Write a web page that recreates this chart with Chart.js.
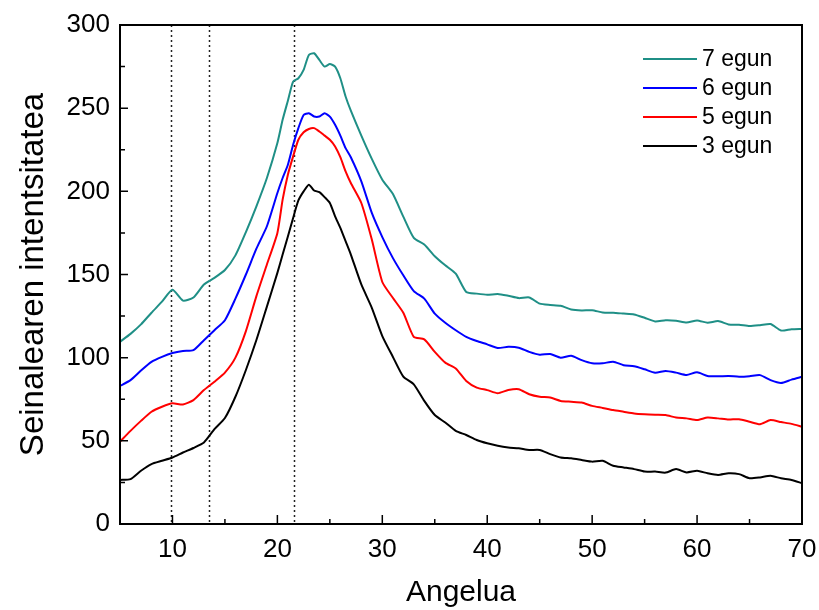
<!DOCTYPE html>
<html>
<head>
<meta charset="utf-8">
<script src="https://cdn.jsdelivr.net/npm/chart.js@4.4.1/dist/chart.umd.min.js"></script>
<style>
  html, body { margin: 0; padding: 0; background: #fff; }
  #wrap { width: 819px; height: 610px; }
</style>
</head>
<body>
<div id="wrap"><canvas id="c"></canvas></div>
<script>
const angles = [5,6,7,8,9,10,11,12,13,14,15,16,17,18,19,
  20,20.5,21,21.5,22,22.5,23,23.5,24,24.5,25,25.5,26,26.5,27,
  28,29,30,31,32,33,34,35,36,37,38,39,40,41,42,43,44,45,46,47,48,49,50,
  51,52,53,54,55,56,57,58,59,60,61,62,63,64,65,66,67,68,69,70]

const egun7 = [109.5,114.3,120,127,133.7,140.8,134.3,136.2,144,148,152.7,161.5,175.5,191,208,
  229,243,254.5,266,268,273,282,283,279,275,276.5,275,268,257,248.5,
  233.5,219.5,207,198.5,184.8,172,168,161,155.5,150.5,139.5,138.5,137.8,138.3,137.2,135.8,136.2,132.5,131.7,131.2,129,128.4,128.5,
  127.2,127,126.5,126,124,121.8,122.5,122.2,121.1,122.4,121,122,120,119.8,119,119.5,120.2,116.3,117.1,117.3]

const egun6 = [83,86.5,92.3,97.5,100.5,102.8,104,104.5,110.5,116.5,122.5,135.5,150,165.5,179,
  199,208,216,228,238,245.9,247,245,245,247,244.9,240,233.5,226,220.5,
  206,187,172.5,160,149.5,140,135.5,126.5,121,116.5,112.5,110,108,105.8,106.5,106,103.5,101.8,102.2,100,101.2,98.5,96.6,
  96.6,97.6,95.5,94.8,93,91,92,91,89.6,91.2,89,88.8,89,88.5,88.8,89.5,86.5,84.8,86.8,88.5]

const egun5 = [49.5,56,62,67.5,70.5,72.6,71.8,74.5,80.5,85.5,91,100,116,137,156,
  175,195,210,221,231,235.5,237.5,238,236,233.5,231,227,220.5,212,205,
  193,171,145.5,136,127,112.5,111,103.5,97,93.5,86,82,80.5,78.6,80.5,81,78,76.5,76,74,73.5,73,71,
  69.8,68.5,67.5,66.5,66,65.7,65.5,64,63.5,62.5,64,63.5,62.8,63,61.5,60,62.5,61.3,60.2,58.5]

const egun3 = [26.5,27,32,36,38,40,43,45.7,49,57,63.7,76.5,92.6,110.6,130.7,
  151,162,172.8,184,194.5,200,204,200.5,199.5,196.5,193,185,178,170,162,
  144,130,113,100.6,88.6,84,74,65.5,61,56,53.5,50.5,48.5,47,46,45.5,44.5,44.5,42,40,39.5,38.5,37.5,
  38,35,34,33,31.5,31.5,30.9,33,31,32,30.5,29.5,30.5,30,27.5,28,29,27.5,26.5,24.5]

const seriesNames = ["7 egun", "6 egun", "5 egun", "3 egun"]
const seriesColors = ["#1f8f86", "#0000ff", "#ff0000", "#000000"]
const xTicks = [10, 20, 30, 40, 50, 60, 70]
const yTicks = [0, 50, 100, 150, 200, 250, 300]
const markerAngles = [9.9, 13.5, 21.6]

const fontName = "'Liberation Sans', Arial, sans-serif"

const toPoints = function(ys){
  return ys.map((v, i) => ({ x: angles[i], y: v }))
}

// Frame, inward ticks, dotted lines and legend
const decorations = {
  id: "decorations",
  beforeDatasetsDraw(chart) {
    const { ctx, chartArea } = chart
    const xs = chart.scales.x
    ctx.save()
    ctx.strokeStyle = "#222"
    ctx.lineWidth = 1.5
    ctx.setLineDash([2, 3])
    markerAngles.forEach(a => {
      const px = Math.round(xs.getPixelForValue(a)) + 0.5
      ctx.beginPath()
      ctx.moveTo(px, chartArea.top)
      ctx.lineTo(px, chartArea.bottom)
      ctx.stroke()
    })
    ctx.restore()
  },
  afterDatasetsDraw(chart) {
    const { ctx, chartArea } = chart
    const xs = chart.scales.x
    const ys = chart.scales.y
    ctx.save()
    ctx.strokeStyle = "#000"
    ctx.lineWidth = 2
    ctx.strokeRect(chartArea.left, chartArea.top, chartArea.right - chartArea.left, chartArea.bottom - chartArea.top)
    ctx.lineWidth = 1.5
    ctx.beginPath()
    for (let v = 5; v <= 70; v += 5) {
      const px = xs.getPixelForValue(v)
      const len = v % 10 === 0 ? 9 : 5
      ctx.moveTo(px, chartArea.bottom)
      ctx.lineTo(px, chartArea.bottom - len)
    }
    for (let v = 0; v <= 300; v += 25) {
      const py = ys.getPixelForValue(v)
      const len = v % 50 === 0 ? 8 : 5
      ctx.moveTo(chartArea.left, py)
      ctx.lineTo(chartArea.left + len, py)
    }
    ctx.stroke()

    // legend
    ctx.font = "23px " + fontName
    ctx.textBaseline = "middle"
    ctx.fillStyle = "#000"
    chart.data.datasets.forEach((ds, i) => {
      const y = 59 + i * 29
      ctx.strokeStyle = ds.borderColor
      ctx.lineWidth = 2
      ctx.beginPath()
      ctx.moveTo(643, y)
      ctx.lineTo(697, y)
      ctx.stroke()
      ctx.fillText(ds.label, 702, y + 1)
    })
    ctx.restore()
  }
}

const datasets = [egun7, egun6, egun5, egun3].map((ys, i) => ({
  label: seriesNames[i],
  data: toPoints(ys),
  borderColor: seriesColors[i],
  borderWidth: 2,
  pointRadius: 0,
  tension: 0.2,
  fill: false
}))

new Chart(document.getElementById("c"), {
  type: "line",
  data: { datasets: datasets },
  plugins: [decorations],
  options: {
    responsive: true,
    maintainAspectRatio: false,
    animation: false,
    layout: { padding: { left: 0, top: 25, right: 17, bottom: 0 } },
    plugins: { legend: { display: false }, tooltip: { enabled: false } },
    scales: {
      x: {
        type: "linear",
        min: 5,
        max: 70,
        afterBuildTicks: s => { s.ticks = xTicks.map(v => ({ value: v })) },
        afterFit: s => { s.height = 86; s.paddingLeft = 0; s.paddingRight = 0 },
        grid: { display: false, drawTicks: false },
        border: { display: false },
        ticks: { padding: 10, color: "#000", font: { size: 26, family: fontName } },
        title: { display: true, text: "Angelua", color: "#000", font: { size: 30, family: fontName }, padding: { top: 4, bottom: -1 } }
      },
      y: {
        min: 0,
        max: 300,
        afterBuildTicks: s => { s.ticks = yTicks.map(v => ({ value: v })) },
        afterFit: s => { s.width = 120; s.paddingTop = 0; s.paddingBottom = 0 },
        grid: { display: false, drawTicks: false },
        border: { display: false },
        ticks: { padding: 10, color: "#000", font: { size: 26, family: fontName } },
        title: { display: true, text: "Seinalearen intentsitatea", color: "#000", font: { size: 33, family: fontName }, padding: { top: 14 } }
      }
    }
  }
})
</script>
</body>
</html>
